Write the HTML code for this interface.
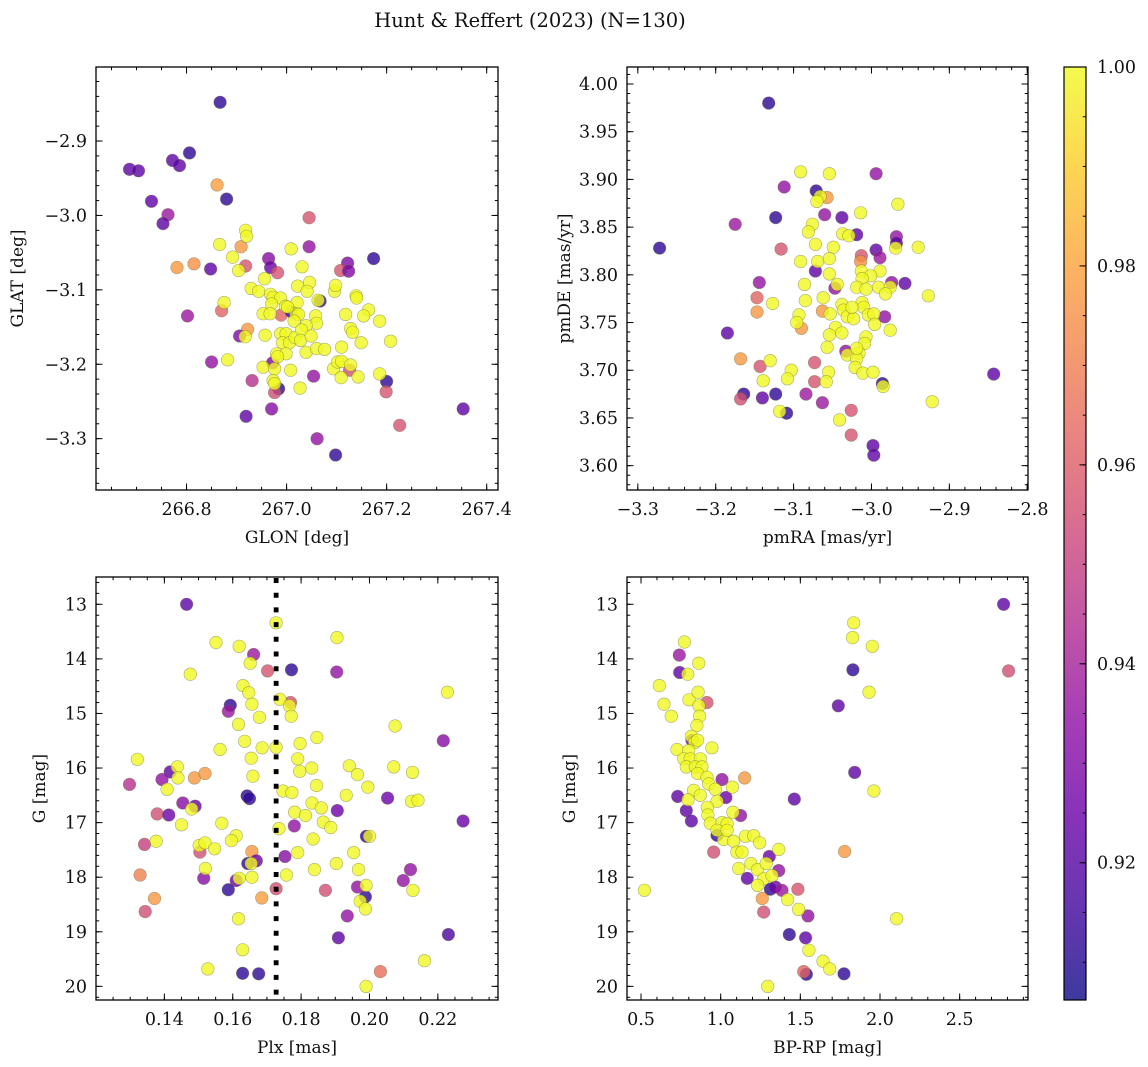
<!DOCTYPE html>
<html>
<head>
<meta charset="utf-8">
<style>
  html,body{margin:0;padding:0;background:#fff;}
  svg{display:block;}
  text{font-family:"DejaVu Serif","Liberation Serif",serif;fill:#111;}
</style>
</head>
<body>
<svg id="chart" xmlns="http://www.w3.org/2000/svg" width="1148" height="1067" viewBox="0 0 1148 1067">
  <rect x="0" y="0" width="1148" height="1067" fill="#fff"/>
  <text x="530" y="27" text-anchor="middle" font-size="19.5">Hunt &amp; Reffert (2023) (N=130)</text>
</svg>
<script>
// ---------- Panel 1: GLON vs GLAT ----------
const tlGlon=[266.867,266.686,266.704,266.772,266.786,266.806,266.861,266.880,266.730,266.763,266.753,267.045,267.045,266.781,266.815,266.848,266.918,266.964,266.968,266.982,266.909,267.174,267.122,267.108,267.124,266.802,266.870,267.067,266.989,267.009,266.922,266.906,266.850,266.972,266.931,267.054,266.984,266.976,267.126,267.200,267.199,266.919,266.970,267.226,267.353,267.061,267.098,
266.918,266.920,266.866,266.892,266.904,267.009,267.031,266.956,266.929,266.944,266.968,266.973,266.988,266.970,266.998,267.021,267.022,267.046,267.041,267.063,267.096,267.098,267.139,267.140,267.164,267.154,267.186,267.118,267.128,267.132,267.149,267.208,267.110,267.058,267.060,267.019,267.024,267.015,267.039,267.002,266.953,266.967,266.957,266.875,266.917,266.882,266.953,266.976,266.973,266.976,267.008,267.027,266.988,266.999,266.992,267.006,267.017,267.030,267.028,267.049,267.039,267.060,267.076,266.980,266.999,266.982,267.094,267.109,267.143,267.102,267.110,267.128,267.186];
const tlGlat=[-2.848,-2.938,-2.940,-2.926,-2.933,-2.916,-2.959,-2.978,-2.981,-2.999,-3.011,-3.003,-3.042,-3.070,-3.065,-3.072,-3.068,-3.058,-3.070,-3.077,-3.042,-3.058,-3.064,-3.074,-3.075,-3.135,-3.128,-3.115,-3.134,-3.129,-3.153,-3.162,-3.197,-3.198,-3.222,-3.216,-3.233,-3.238,-3.208,-3.223,-3.237,-3.270,-3.260,-3.282,-3.260,-3.300,-3.322,
-3.020,-3.028,-3.039,-3.056,-3.074,-3.045,-3.069,-3.085,-3.098,-3.102,-3.106,-3.110,-3.111,-3.119,-3.122,-3.117,-3.095,-3.090,-3.102,-3.114,-3.102,-3.094,-3.108,-3.111,-3.127,-3.135,-3.142,-3.133,-3.152,-3.157,-3.171,-3.169,-3.177,-3.135,-3.145,-3.132,-3.133,-3.142,-3.148,-3.123,-3.132,-3.132,-3.161,-3.117,-3.163,-3.194,-3.204,-3.206,-3.222,-3.226,-3.208,-3.232,-3.159,-3.159,-3.171,-3.171,-3.164,-3.154,-3.168,-3.162,-3.184,-3.179,-3.180,-3.186,-3.186,-3.190,-3.206,-3.218,-3.217,-3.197,-3.196,-3.201,-3.213];
const tlProb=[.912,.922,.922,.922,.922,.912,.979,.912,.922,.937,.922,.957,.935,.977,.975,.922,.957,.932,.925,.957,.977,.912,.93,.957,.93,.937,.962,.912,.962,.912,.977,.93,.935,.93,.945,.935,.912,.955,.955,.912,.957,.922,.932,.957,.922,.935,.912,
1,1,1,1,1,1,1,1,1,1,1,1,1,1,1,1,1,1,1,1,1,1,1,1,1,1,1,1,1,1,1,1,1,1,1,1,1,1,1,1,1,1,1,1,1,1,1,1,1,1,1,1,1,1,1,1,1,1,1,1,1,1,1,1,1,1,1,1,1,1,1,1,1];
const tlXTicks=[266.8,267.0,267.2,267.4];
const tlXTickLabels=["266.8","267.0","267.2","267.4"];
const tlYTicks=[-2.9,-3.0,-3.1,-3.2,-3.3];
const tlYTickLabels=["\u22122.9","\u22123.0","\u22123.1","\u22123.2","\u22123.3"];

// ---------- Panel 2: pmRA vs pmDE ----------
const trPmra=[-3.132,-3.272,-3.175,-3.112,-3.071,-3.057,-3.123,-3.060,-3.038,-2.994,-3.019,-2.968,-2.968,-3.116,-2.994,-3.013,-3.014,-2.989,-3.072,-3.144,-3.047,-2.974,-2.957,-3.147,-3.147,-3.063,-3.090,-2.983,-3.185,-3.168,-3.143,-3.073,-3.073,-3.033,-2.986,-3.164,-3.168,-3.140,-3.123,-3.109,-3.084,-3.063,-3.026,-3.026,-2.998,-2.997,-2.843,
-3.091,-3.054,-3.066,-3.070,-3.014,-2.966,-3.076,-3.081,-3.037,-3.029,-2.940,-3.072,-3.049,-2.969,-3.091,-3.069,-3.054,-3.013,-2.989,-3.054,-3.001,-3.012,-3.019,-3.007,-2.991,-3.044,-3.086,-2.976,-2.982,-2.927,-3.085,-3.062,-3.127,-3.038,-3.036,-3.012,-3.010,-3.031,-3.023,-3.004,-2.997,-3.093,-3.096,-3.053,-2.996,-2.976,-3.046,-3.038,-3.054,-3.007,-3.009,-3.057,-3.016,-3.031,-3.019,-3.021,-3.011,-2.998,-2.985,-2.922,-3.055,-3.058,-3.103,-3.108,-3.130,-3.139,-3.118,-3.041,-3.019,-3.025];
const trPmde=[3.980,3.828,3.853,3.892,3.888,3.881,3.860,3.863,3.860,3.906,3.842,3.840,3.833,3.827,3.826,3.820,3.814,3.818,3.804,3.792,3.786,3.792,3.791,3.776,3.761,3.762,3.744,3.756,3.739,3.712,3.704,3.708,3.688,3.720,3.686,3.675,3.670,3.671,3.675,3.655,3.675,3.666,3.658,3.632,3.621,3.611,3.696,
3.908,3.906,3.882,3.877,3.865,3.874,3.853,3.845,3.843,3.841,3.829,3.832,3.829,3.828,3.814,3.814,3.817,3.804,3.804,3.801,3.799,3.796,3.787,3.785,3.787,3.790,3.790,3.787,3.780,3.778,3.773,3.776,3.770,3.769,3.763,3.771,3.766,3.756,3.754,3.758,3.759,3.758,3.750,3.759,3.748,3.742,3.745,3.739,3.737,3.735,3.728,3.724,3.718,3.716,3.712,3.703,3.697,3.698,3.683,3.667,3.698,3.688,3.700,3.691,3.710,3.689,3.657,3.648,3.723,3.766];
const trProb=[.912,.912,.937,.935,.912,.977,.912,.935,.922,.935,.922,.935,.922,.957,.922,.957,.975,.937,.922,.935,.935,.935,.922,.962,.977,.977,.977,.935,.922,.977,.957,.957,.957,.935,.912,.912,.955,.922,.912,.912,.937,.937,.957,.957,.922,.922,.922,
1,1,1,1,1,1,1,1,1,1,1,1,1,1,1,1,1,1,1,1,1,1,1,1,1,1,1,1,1,1,1,1,1,1,1,1,1,1,1,1,1,1,1,1,1,1,1,1,1,1,1,1,1,1,1,1,1,1,1,1,1,1,1,1,1,1,1,1,1,1,1];
const trXTicks=[-3.3,-3.2,-3.1,-3.0,-2.9,-2.8];
const trXTickLabels=["\u22123.3","\u22123.2","\u22123.1","\u22123.0","\u22122.9","\u22122.8"];
const trYTicks=[4.00,3.95,3.90,3.85,3.80,3.75,3.70,3.65,3.60];
const trYTickLabels=["4.00","3.95","3.90","3.85","3.80","3.75","3.70","3.65","3.60"];

// ---------- Panel 3: Plx vs G ----------
const blPlx=[.1465,.1661,.1702,.1772,.1904,.1593,.1587,.1769,.2216,.1417,.1393,.1298,.1488,.1519,.1642,.1649,.1454,.1490,.1379,.1413,.1906,.2053,.2274,.1780,.1342,.1991,.1504,.1656,.1644,.1669,.1753,.1329,.1515,.1610,.1587,.1727,.1871,.1965,.1988,.2120,.2099,.1371,.1685,.1344,.1935,.1909,.2231,.1629,.1676,.2032,
.1727,.1905,.1551,.1619,.1651,.1476,.1630,.1647,.1738,.1766,.1656,.1678,.1771,.2228,.1617,.2075,.1635,.1846,.1797,.1563,.1686,.1727,.1654,.1790,.1321,.1438,.1440,.1659,.1796,.1831,.1941,.1965,.2071,.2126,.1408,.1747,.1773,.1845,.1995,.1932,.1832,.1859,.2123,.2142,.1480,.1781,.1813,.1865,.1887,.1450,.1568,.1735,.1610,.1596,.1502,.1519,.1547,.1376,.1835,.1790,.1954,.2000,.1520,.1654,.1757,.1839,.1903,.1968,.1619,.1656,.1990,.2127,.1973,.1988,.1617,.1629,.1527,.2161,.1990];
const blG=[13.00,13.92,14.22,14.20,14.24,14.85,14.96,14.80,15.50,16.07,16.21,16.30,16.18,16.10,16.51,16.56,16.64,16.70,16.84,16.86,16.78,16.55,16.97,17.06,17.40,17.25,17.54,17.53,17.75,17.70,17.62,17.96,18.02,18.06,18.23,18.21,18.24,18.18,18.36,17.86,18.06,18.39,18.38,18.63,18.71,19.11,19.05,19.76,19.77,19.73,
13.34,13.61,13.70,13.77,14.08,14.28,14.49,14.62,14.74,14.86,14.83,15.07,15.05,14.61,15.20,15.23,15.51,15.44,15.55,15.66,15.63,15.62,15.82,15.83,15.84,15.98,16.18,16.15,16.06,16.00,15.96,16.12,15.98,16.08,16.39,16.42,16.45,16.32,16.35,16.50,16.64,16.73,16.61,16.59,16.75,16.81,16.87,16.99,17.09,17.04,17.01,17.11,17.24,17.33,17.42,17.37,17.48,17.34,17.30,17.55,17.55,17.25,17.84,17.75,17.96,17.86,17.75,17.86,18.02,18.00,18.15,18.24,18.44,18.58,18.76,19.33,19.68,19.53,20.00];
const blProb=[.922,.937,.957,.912,.935,.912,.937,.957,.932,.922,.935,.945,.977,.977,.912,.912,.932,.925,.955,.925,.925,.925,.925,.935,.950,.912,.955,.977,.912,.925,.932,.970,.932,.925,.912,.955,.955,.935,.912,.935,.935,.977,.979,.955,.935,.922,.918,.912,.912,.965,
1,1,1,1,1,1,1,1,1,1,1,1,1,1,1,1,1,1,1,1,1,1,1,1,1,1,1,1,1,1,1,1,1,1,1,1,1,1,1,1,1,1,1,1,1,1,1,1,1,1,1,1,1,1,1,1,1,1,1,1,1,1,1,1,1,1,1,1,1,1,1,1,1,1,1,1,1,1,1];
const blXTicks=[0.14,0.16,0.18,0.20,0.22];
const blXTickLabels=["0.14","0.16","0.18","0.20","0.22"];
const blYTicks=[13,14,15,16,17,18,19,20];
const blYTickLabels=["13","14","15","16","17","18","19","20"];
const blCutPlx=[0.1727];

// ---------- Panel 4: BP-RP vs G ----------
const brBprp=[2.776,2.807,1.830,0.740,0.743,0.914,1.738,1.841,1.150,1.008,0.730,1.462,1.033,0.784,0.816,1.125,0.977,0.956,1.778,1.305,1.364,1.167,1.312,1.343,1.385,1.485,1.261,1.270,1.548,1.431,1.533,1.774,1.538,1.521,0.820,
0.772,0.862,0.793,0.615,0.644,0.690,0.801,0.858,0.864,0.868,0.851,0.816,0.837,0.855,0.726,0.945,0.799,0.768,0.809,0.872,0.784,0.841,0.883,0.855,0.914,0.925,0.966,0.830,0.795,0.872,0.977,1.073,0.916,0.920,1.077,0.935,1.008,1.040,1.019,1.081,1.102,1.134,1.155,1.207,1.245,1.364,1.113,1.190,1.232,1.286,1.270,1.322,1.232,1.420,1.489,1.554,1.642,1.684,1.295,0.521,2.104,1.962,1.931,1.835,1.828,1.952,0.977,1.040];
const brG=[13.00,14.22,14.20,13.93,14.25,14.80,14.86,16.08,16.18,16.21,16.52,16.57,16.54,16.78,16.97,16.87,17.23,17.54,17.53,17.62,17.88,18.02,18.22,18.18,18.24,18.22,18.39,18.64,18.71,19.05,19.11,19.77,19.78,19.73,15.49,
13.69,14.08,14.28,14.49,14.83,15.05,14.75,14.61,14.86,15.05,15.22,15.42,15.53,15.49,15.66,15.63,15.68,15.83,15.83,15.83,15.98,15.98,15.98,16.10,16.17,16.29,16.39,16.41,16.58,16.50,16.61,16.35,16.72,16.86,16.81,17.01,17.00,17.02,17.31,17.34,17.54,17.54,17.25,17.24,17.37,17.49,17.84,17.75,17.86,17.75,18.03,17.97,18.15,18.41,18.59,19.34,19.54,19.68,20.00,18.24,18.76,16.42,14.61,13.34,13.61,13.77,17.14,17.14];
const brProb=[.922,.955,.912,.937,.922,.957,.922,.922,.977,.935,.922,.922,.925,.922,.922,.935,.912,.955,.977,.925,.935,.922,.912,.925,.937,.957,.977,.955,.935,.912,.922,.912,.912,.962,.925,
1,1,1,1,1,1,1,1,1,1,1,1,1,1,1,1,1,1,1,1,1,1,1,1,1,1,1,1,1,1,1,1,1,1,1,1,1,1,1,1,1,1,1,1,1,1,1,1,1,1,1,1,1,1,1,1,1,1,1,1,1,1,1,1,1,1,1,1,1];
const brXTicks=[0.5,1.0,1.5,2.0,2.5];
const brXTickLabels=["0.5","1.0","1.5","2.0","2.5"];
const brYTicks=[13,14,15,16,17,18,19,20];
const brYTickLabels=["13","14","15","16","17","18","19","20"];

// ---------- Colorbar ----------
const cbTicks=[0.92,0.94,0.96,0.98,1.00];
const cbTickLabels=["0.92","0.94","0.96","0.98","1.00"];
const PROB_MIN=0.9062, PROB_MAX=1.0;

// ---------- rendering ----------
const NS='http://www.w3.org/2000/svg';
const svg=document.getElementById('chart');
function mk(tag,parent){const e=document.createElementNS(NS,tag);(parent||svg).appendChild(e);return e;}
function lin(d0,d1,r0,r1){return v=>r0+(v-d0)/(d1-d0)*(r1-r0);}
const plasmaStops=[[13,8,135],[65,4,157],[106,0,168],[143,13,164],[177,42,144],[204,71,120],[225,100,98],[242,132,75],[252,166,54],[252,206,37],[240,249,33]];
function plasma(t){if(!isFinite(t))t=1;t=Math.max(0,Math.min(1,t));const f=t*10,i=Math.min(9,Math.floor(f)),u=f-i;const a=plasmaStops[i],b=plasmaStops[i+1];
  return 'rgb('+a.map((c,k)=>Math.round(c+(b[k]-c)*u)).join(',')+')';}
function probColor(p){return plasma((p-PROB_MIN)/(PROB_MAX-PROB_MIN));}

const defs=mk('defs');



function drawPanel(P){
  const g=mk('g');
  
  
  const sx=lin(P.xd[0],P.xd[1],P.x0,P.x1), sy=lin(P.yd[0],P.yd[1],P.y0,P.y1);
  const cp=mk('clipPath',defs); cp.setAttribute('id','clip-'+P.name);
  const cr=mk('rect',cp); cr.setAttribute('x',P.x0);cr.setAttribute('y',P.y0);cr.setAttribute('width',P.x1-P.x0);cr.setAttribute('height',P.y1-P.y0);
  const pg=mk('g',g);
  
  
  pg.setAttribute('clip-path','url(#clip-'+P.name+')');
  const n=Math.min(P.xs.length,P.ys.length);
  for(let i=0;i<n;i++){
    const pr=(P.ps[i]===undefined)?1:P.ps[i];
    const c=mk('circle',pg);
    
    
    c.setAttribute('cx',sx(P.xs[i]).toFixed(1));
    c.setAttribute('cy',sy(P.ys[i]).toFixed(1));
    c.setAttribute('r','6.3');
    c.setAttribute('fill',probColor(pr));
    c.setAttribute('fill-opacity','0.8');
    c.setAttribute('stroke','#6b6b40');
    c.setAttribute('stroke-opacity','0.55');
    c.setAttribute('stroke-width','0.6');
  }
  if(P.vline){
    for(const v of P.vline){
      const l=mk('line',g);
      
      
      l.setAttribute('x1',sx(v));l.setAttribute('x2',sx(v));
      l.setAttribute('y1',P.y0+1);l.setAttribute('y2',P.y1);
      l.setAttribute('stroke','#000');l.setAttribute('stroke-width','4.8');
      l.setAttribute('stroke-dasharray','5 9.7');
    }
  }
  const tg=mk('g',g);
  
  
  function tick(x1,y1,x2,y2){const t=mk('line',tg);t.setAttribute('x1',x1);t.setAttribute('y1',y1);t.setAttribute('x2',x2);t.setAttribute('y2',y2);t.setAttribute('stroke','#000');t.setAttribute('stroke-width','1');}
  const lo=Math.min(P.xd[0],P.xd[1]), hi=Math.max(P.xd[0],P.xd[1]);
  for(let v=Math.ceil(lo/P.xMinor-1e-6)*P.xMinor; v<=hi+1e-9; v+=P.xMinor){const x=sx(v);tick(x,P.y1,x,P.y1-3.2);tick(x,P.y0,x,P.y0+3.2);}
  const ylo=Math.min(P.yd[0],P.yd[1]), yhi=Math.max(P.yd[0],P.yd[1]);
  for(let v=Math.ceil(ylo/P.yMinor-1e-6)*P.yMinor; v<=yhi+1e-9; v+=P.yMinor){const y=sy(v);tick(P.x0,y,P.x0+3.2,y);tick(P.x1,y,P.x1-3.2,y);}
  P.xTicks.forEach((v,i)=>{const x=sx(v);tick(x,P.y1,x,P.y1-6.5);tick(x,P.y0,x,P.y0+6.5);
    const t=mk('text',g);
    
    
    t.setAttribute('x',x);t.setAttribute('y',P.y1+25);t.setAttribute('text-anchor','middle');t.setAttribute('font-size','17.5');t.textContent=P.xLabels[i];});
  P.yTicks.forEach((v,i)=>{const y=sy(v);tick(P.x0,y,P.x0+6.5,y);tick(P.x1,y,P.x1-6.5,y);
    const t=mk('text',g);
    
    
    t.setAttribute('x',P.x0-9);t.setAttribute('y',y+6);t.setAttribute('text-anchor','end');t.setAttribute('font-size','17.5');t.textContent=P.yLabels[i];});
  const fr=mk('rect',g);
  
  
  fr.setAttribute('x',P.x0);fr.setAttribute('y',P.y0);fr.setAttribute('width',P.x1-P.x0);fr.setAttribute('height',P.y1-P.y0);
  fr.setAttribute('fill','none');fr.setAttribute('stroke','#000');fr.setAttribute('stroke-width','1.3');
  const xt=mk('text',g);
  
  
  xt.setAttribute('x',(P.x0+P.x1)/2);xt.setAttribute('y',P.y1+53);xt.setAttribute('text-anchor','middle');xt.setAttribute('font-size','17');xt.textContent=P.xTitle;
  const yt=mk('text',g);
  
  
  const yc=(P.y0+P.y1)/2;
  yt.setAttribute('x',P.yTitleX);yt.setAttribute('y',yc);yt.setAttribute('text-anchor','middle');yt.setAttribute('font-size','17');
  yt.setAttribute('transform','rotate(-90 '+P.yTitleX+' '+yc+')');yt.textContent=P.yTitle;
}

drawPanel({name:'glon-glat-panel',x0:96,x1:498,y0:67,y1:490,xd:[266.619,267.4226],yd:[-2.8005,-3.369],
  xs:tlGlon,ys:tlGlat,ps:tlProb,xTicks:tlXTicks,xLabels:tlXTickLabels,yTicks:tlYTicks,yLabels:tlYTickLabels,
  xMinor:0.05,yMinor:0.02,xTitle:'GLON [deg]',yTitle:'GLAT [deg]',yTitleX:23});
drawPanel({name:'pm-panel',x0:627,x1:1028,y0:67,y1:490,xd:[-3.3139,-2.799],yd:[4.0178,3.5745],
  xs:trPmra,ys:trPmde,ps:trProb,xTicks:trXTicks,xLabels:trXTickLabels,yTicks:trYTicks,yLabels:trYTickLabels,
  xMinor:0.02,yMinor:0.01,xTitle:'pmRA [mas/yr]',yTitle:'pmDE [mas/yr]',yTitleX:570});
drawPanel({name:'plx-g-panel',x0:96,x1:498,y0:577,y1:1000,xd:[0.12,0.2376],yd:[12.5,20.25],
  xs:blPlx,ys:blG,ps:blProb,xTicks:blXTicks,xLabels:blXTickLabels,yTicks:blYTicks,yLabels:blYTickLabels,
  xMinor:0.005,yMinor:0.2,xTitle:'Plx [mas]',yTitle:'G [mag]',yTitleX:45,vline:blCutPlx});
drawPanel({name:'cmd-panel',x0:627,x1:1028,y0:577,y1:1000,xd:[0.412,2.929],yd:[12.5,20.25],
  xs:brBprp,ys:brG,ps:brProb,xTicks:brXTicks,xLabels:brXTickLabels,yTicks:brYTicks,yLabels:brYTickLabels,
  xMinor:0.1,yMinor:0.2,xTitle:'BP-RP [mag]',yTitle:'G [mag]',yTitleX:575});

// colorbar
(function(){
  const cx0=1064,cx1=1086,cy0=67,cy1=1000;
  const cs=lin(PROB_MIN,PROB_MAX,cy1,cy0);
  const grad=mk('linearGradient',defs);
  grad.setAttribute('id','cbgrad');grad.setAttribute('x1','0');grad.setAttribute('y1','1');grad.setAttribute('x2','0');grad.setAttribute('y2','0');
  for(let k=0;k<=20;k++){const s=mk('stop',grad);s.setAttribute('offset',k/20);s.setAttribute('stop-color',plasma(k/20));s.setAttribute('stop-opacity','0.8');}
  const g=mk('g');
  
  
  const r=mk('rect',g);
  
  
  r.setAttribute('x',cx0);r.setAttribute('y',cy0);r.setAttribute('width',cx1-cx0);r.setAttribute('height',cy1-cy0);
  r.setAttribute('fill','url(#cbgrad)');r.setAttribute('stroke','#000');r.setAttribute('stroke-width','1.2');
  for(let v=0.91; v<=1.0001; v+=0.005){const y=cs(v);const t=mk('line',g);t.setAttribute('x1',cx1);t.setAttribute('x2',cx1-3.2);t.setAttribute('y1',y);t.setAttribute('y2',y);t.setAttribute('stroke','#000');}
  cbTicks.forEach((v,i)=>{const y=cs(v);
    const t=mk('line',g);t.setAttribute('x1',cx1);t.setAttribute('x2',cx1-6.5);t.setAttribute('y1',y);t.setAttribute('y2',y);t.setAttribute('stroke','#000');
    const tx=mk('text',g);
    
    
    tx.setAttribute('x',1097);tx.setAttribute('y',y+6);tx.setAttribute('font-size','17.5');tx.textContent=cbTickLabels[i];});
})();
</script>
</body>
</html>
